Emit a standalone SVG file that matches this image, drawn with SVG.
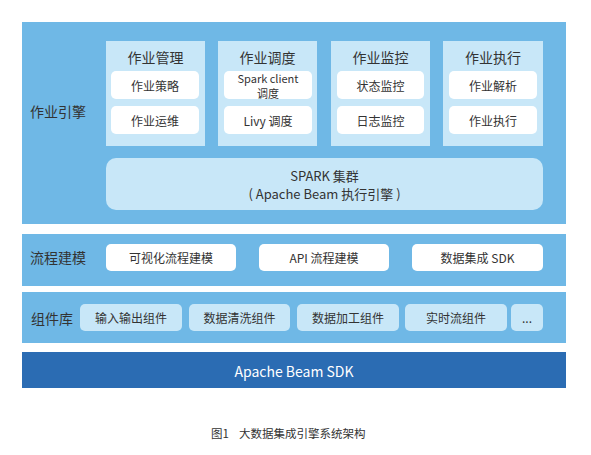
<svg xmlns="http://www.w3.org/2000/svg" width="591" height="455" viewBox="0 0 591 455">
<style>
text{font-family:"Noto Sans CJK SC","Noto Sans",sans-serif;fill:#333;text-anchor:middle;dominant-baseline:central}
.band{fill:#6fb8e6}
.col{fill:#c8e7f8}
.wbox{fill:#fff}
.lbox{fill:#c8e7f8}
.h{font-size:14px}
.t{font-size:12px}
.lab{font-size:14px}
</style>
<rect width="591" height="455" fill="#fff"/>
<g id="engine">
<rect class="band" x="22" y="22" width="544" height="202"/>
<text class="lab" x="58" y="111">作业引擎</text>
</g>
<g id="job-mgmt">
<rect class="col" x="106" y="41" width="99" height="105"/>
<text class="h" x="155.5" y="57">作业管理</text>
<rect class="wbox" x="111" y="71" width="88" height="28" rx="5"/>
<text class="t" x="155" y="85">作业策略</text>
<rect class="wbox" x="111" y="106" width="88" height="28" rx="5"/>
<text class="t" x="155" y="120">作业运维</text>
</g>
<g id="job-sched">
<rect class="col" x="218" y="41" width="99" height="105"/>
<text class="h" x="267.5" y="57">作业调度</text>
<rect class="wbox" x="224" y="71" width="88" height="28" rx="5"/>
<text class="t" style="font-size:11px"><tspan x="268" y="77.5">Spark client</tspan><tspan x="268" y="92.5">调度</tspan></text>
<rect class="wbox" x="224" y="106" width="88" height="28" rx="5"/>
<text class="t" x="268" y="120">Livy 调度</text>
</g>
<g id="job-mon">
<rect class="col" x="331" y="41" width="99" height="105"/>
<text class="h" x="380.5" y="57">作业监控</text>
<rect class="wbox" x="337" y="71" width="87" height="28" rx="5"/>
<text class="t" x="380.5" y="85">状态监控</text>
<rect class="wbox" x="337" y="106" width="87" height="28" rx="5"/>
<text class="t" x="380.5" y="120">日志监控</text>
</g>
<g id="job-exec">
<rect class="col" x="443" y="41" width="100" height="105"/>
<text class="h" x="493" y="57">作业执行</text>
<rect class="wbox" x="449" y="71" width="88" height="28" rx="5"/>
<text class="t" x="493" y="85">作业解析</text>
<rect class="wbox" x="449" y="106" width="88" height="28" rx="5"/>
<text class="t" x="493" y="120">作业执行</text>
</g>
<g id="spark">
<rect class="col" x="106" y="158" width="437" height="52" rx="10"/>
<text class="h" x="324.5" y="175" style="font-size:13px">SPARK 集群</text>
<text class="h" x="324.5" y="193" style="font-size:13px">( Apache Beam 执行引擎 )</text>
</g>
<g id="flow">
<rect class="band" x="22" y="234" width="544" height="52"/>
<text class="lab" x="58" y="257">流程建模</text>
<rect class="wbox" x="106" y="244" width="130" height="27" rx="5"/>
<text class="t" x="171" y="257.5">可视化流程建模</text>
<rect class="wbox" x="259" y="244" width="130" height="27" rx="5"/>
<text class="t" x="324" y="257.5">API 流程建模</text>
<rect class="wbox" x="412" y="244" width="131" height="27" rx="5"/>
<text class="t" x="477.5" y="257.5">数据集成 SDK</text>
</g>
<g id="components">
<rect class="band" x="22" y="292" width="544" height="51"/>
<text class="lab" x="52" y="318">组件库</text>
<rect class="lbox" x="80" y="304" width="102" height="27" rx="5"/>
<text class="t" x="131" y="317.5">输入输出组件</text>
<rect class="lbox" x="189" y="304" width="101" height="27" rx="5"/>
<text class="t" x="239.5" y="317.5">数据清洗组件</text>
<rect class="lbox" x="297" y="304" width="102" height="27" rx="5"/>
<text class="t" x="348" y="317.5">数据加工组件</text>
<rect class="lbox" x="405" y="304" width="102" height="27" rx="5"/>
<text class="t" x="456" y="317.5">实时流组件</text>
<rect class="lbox" x="511" y="304" width="32" height="27" rx="5"/>
<text class="t" x="527" y="317.5">...</text>
</g>
<g id="sdk">
<rect x="22" y="352" width="544" height="36" fill="#2b6cb3"/>
<text x="294" y="370.5" style="font-size:14px;fill:#fff">Apache Beam SDK</text>
</g>
<g id="caption">
<text x="211" y="433" style="font-size:11.5px;text-anchor:start">图1</text>
<text x="239" y="433" style="font-size:11.5px;text-anchor:start">大数据集成引擎系统架构</text>
</g>
</svg>
